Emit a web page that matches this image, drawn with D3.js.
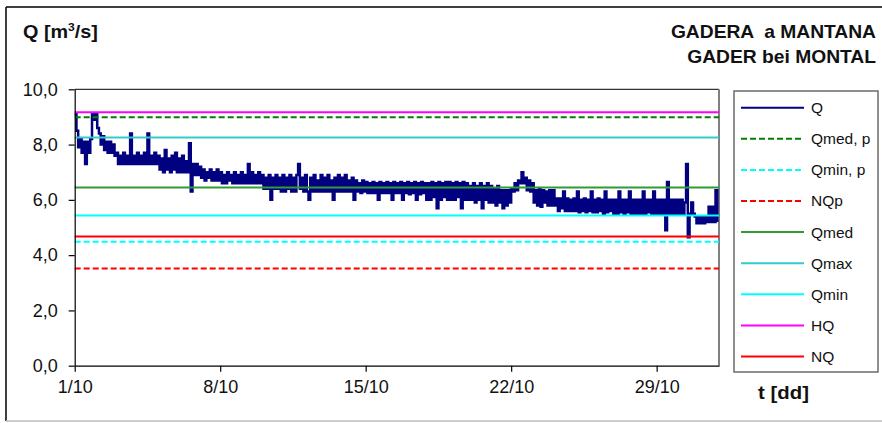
<!DOCTYPE html>
<html>
<head>
<meta charset="utf-8">
<script src="https://cdn.jsdelivr.net/npm/d3@7"></script>
<style>
  body { margin: 0; background: #fff; }
  svg { display: block; font-family: "Liberation Sans", Arial, sans-serif; }
</style>
</head>
<body>
<svg id="chart" width="882" height="423"></svg>
<script>
// Discharge Q [m3/s], one reading every 2 hours from 1 October (12 readings per day)
const qValues = [
  9.1, 8.5, 7.9, 8.2, 7.7, 8.1, 7.3, 8.1, 7.7, 8.2, 9.1, 8.9,
  9.1, 8.6, 8.4, 8.0, 8.3, 7.8, 8.1, 7.7, 8.1, 7.7, 8.0, 7.6,
  7.7, 7.3, 7.6, 7.3, 7.7, 7.3, 7.6, 7.3, 8.4, 7.3, 7.6, 7.3,
  7.7, 7.3, 7.6, 7.3, 7.7, 7.3, 8.4, 7.3, 7.6, 7.3, 7.7, 7.3,
  7.6, 7.1, 7.5, 7.0, 7.8, 7.1, 7.5, 7.0, 7.6, 7.1, 7.7, 7.0,
  7.5, 7.0, 7.6, 7.0, 7.4, 7.0, 8.05, 6.3, 7.3, 6.9, 7.3, 6.9,
  7.2, 6.8, 7.1, 6.7, 7.0, 6.8, 7.1, 6.7, 7.0, 6.7, 7.1, 6.7,
  7.0, 6.6, 6.9, 6.6, 7.0, 6.7, 6.9, 6.6, 7.0, 6.6, 6.9, 6.6,
  7.0, 6.6, 6.9, 6.6, 7.3, 6.6, 7.0, 6.6, 6.9, 6.6, 7.0, 6.6,
  6.9, 6.4, 6.8, 6.4, 6.9, 6.0, 6.8, 6.4, 6.9, 6.4, 6.8, 6.3,
  6.9, 6.3, 6.8, 6.4, 6.9, 6.3, 6.8, 6.3, 6.9, 7.3, 6.4, 6.8,
  6.3, 6.9, 6.3, 6.0, 6.8, 6.3, 6.9, 6.3, 6.7, 6.3, 6.9, 6.3,
  6.8, 6.3, 6.9, 6.3, 6.7, 6.0, 6.8, 6.3, 6.9, 6.3, 6.8, 6.3,
  6.9, 6.3, 6.7, 6.3, 6.8, 6.0, 6.7, 6.3, 6.6, 6.25, 6.7, 6.3,
  6.65, 6.25, 6.6, 6.25, 6.65, 6.25, 6.6, 6.0, 6.65, 6.25, 6.6, 6.25,
  6.65, 6.25, 6.6, 6.0, 6.65, 6.25, 6.6, 6.25, 6.65, 6.0, 6.6, 6.25,
  6.65, 6.2, 6.6, 6.25, 6.65, 6.0, 6.6, 6.2, 6.65, 6.25, 6.6, 6.0,
  6.6, 6.0, 6.65, 6.1, 6.6, 5.7, 6.65, 6.0, 6.6, 6.1, 6.65, 6.0,
  6.65, 6.0, 6.6, 6.0, 6.65, 6.1, 6.6, 5.7, 6.65, 6.0, 6.6, 6.0,
  6.5, 6.0, 6.6, 5.9, 6.5, 6.0, 6.6, 5.7, 6.5, 6.0, 6.6, 5.9,
  6.5, 5.9, 6.4, 5.8, 6.5, 5.9, 6.35, 5.7, 6.35, 5.8, 6.35, 5.9,
  6.4, 6.3, 6.6, 6.35, 6.7, 6.6, 7.0, 6.6, 6.8, 6.35, 6.7, 6.3,
  6.6, 5.9, 6.35, 5.8, 6.4, 5.75, 6.35, 5.9, 6.3, 5.8, 6.35, 5.8,
  6.35, 5.8, 6.05, 5.6, 6.05, 5.7, 6.3, 5.6, 6.05, 5.6, 6.0, 5.6,
  6.05, 5.6, 6.3, 5.55, 6.0, 5.6, 6.05, 5.55, 6.0, 5.6, 6.3, 5.55,
  6.0, 5.55, 6.05, 5.6, 6.0, 5.5, 6.3, 5.55, 6.0, 5.6, 6.0, 5.5,
  6.0, 5.5, 6.3, 5.55, 6.0, 5.5, 6.0, 5.55, 6.3, 5.5, 6.0, 5.5,
  6.0, 5.5, 6.0, 5.5, 6.3, 5.5, 6.0, 5.55, 6.0, 5.5, 6.3, 5.5,
  6.0, 5.5, 6.0, 5.5, 6.0, 4.9, 6.65, 5.5, 6.0, 5.5, 6.0, 5.5,
  6.0, 5.5, 6.0, 5.5, 5.9, 7.3, 4.65, 5.5, 5.9, 5.5, 5.4, 5.15,
  5.4, 5.15, 5.4, 5.15, 5.4, 5.2, 5.75, 5.2, 5.75, 5.2, 6.35, 5.2
];
const readingsPerDay = 12;
const monthDays = 31;

// Reference discharges drawn as horizontal lines
const refNames  = ["Qmed, p", "Qmin, p", "NQp", "Qmed", "Qmax", "Qmin", "HQ", "NQ"];
const refValues = [8.99, 4.48, 3.52, 6.45, 8.26, 5.43, 9.17, 4.67];
const refColors = ["#008000", "#00ffff", "#ff0000", "#339933", "#33cccc", "#00ffff", "#ff00ff", "#ff0000"];
const refDashed = [true, true, true, false, false, false, false, false];

// Axis ticks
const xTickDays   = [0, 7, 14, 21, 28];
const xTickLabels = ["1/10", "8/10", "15/10", "22/10", "29/10"];
const yTickValues = [0, 2, 4, 6, 8, 10];

const svg = d3.select("#chart");
const plot = { left: 74.7, right: 719, top: 89.3, bottom: 365.7 };

const x = d3.scaleLinear().domain([0, monthDays]).range([plot.left, plot.right]);
const y = d3.scaleLinear().domain([0, 10]).range([plot.bottom, plot.top]);
const fmt = d3.formatLocale({ decimal: ",", thousands: ".", grouping: [3], currency: ["", "€"] }).format(".1f");

// Outer frame
svg.append("line").attr("x1", 6).attr("y1", 7).attr("x2", 882).attr("y2", 7).attr("stroke", "#000").attr("stroke-width", 1.5);
svg.append("line").attr("x1", 6).attr("y1", 7).attr("x2", 6).attr("y2", 421).attr("stroke", "#000").attr("stroke-width", 1.5);
svg.append("line").attr("x1", 6).attr("y1", 421).attr("x2", 882).attr("y2", 421).attr("stroke", "#bdbdbd").attr("stroke-width", 1.5);

// Bold labels are set slightly wide
function wideText(px, py, anchor, size) {
  return svg.append("g").attr("transform", `translate(${px},${py}) scale(1.1,1)`)
    .append("text").attr("text-anchor", anchor).attr("font-weight", "bold")
    .attr("font-size", size).attr("fill", "#111");
}
wideText(23, 38, "start", 18).call(t => {
  t.append("tspan").text("Q [m");
  t.append("tspan").attr("font-size", 11).attr("dy", -7).text("3");
  t.append("tspan").attr("dy", 7).text("/s]");
});
wideText(876, 38, "end", 17.5).style("white-space", "pre").text("GADERA  a MANTANA");
wideText(876, 63, "end", 17.5).text("GADER bei MONTAL");

// Plot frame (top and right)
svg.append("line").attr("x1", plot.left).attr("x2", plot.right).attr("y1", plot.top).attr("y2", plot.top)
  .attr("stroke", "#000").attr("stroke-width", 1);
svg.append("line").attr("x1", plot.right).attr("x2", plot.right).attr("y1", plot.top).attr("y2", plot.bottom)
  .attr("stroke", "#808080").attr("stroke-width", 2);

// Discharge series
const qLine = d3.line()
  .x((d, i) => x(i / readingsPerDay))
  .y(d => y(d))
  .curve(d3.curveStepAfter);
svg.append("path").datum(qValues).attr("d", qLine)
  .attr("fill", "none").attr("stroke", "#000080").attr("stroke-width", 2.5);

// Reference lines on top of the series
svg.append("g").selectAll("line").data(refValues).join("line")
  .attr("x1", plot.left).attr("x2", plot.right)
  .attr("y1", d => y(d)).attr("y2", d => y(d))
  .attr("stroke", (d, i) => refColors[i]).attr("stroke-width", 2)
  .attr("stroke-dasharray", (d, i) => refDashed[i] ? "6,3" : null);

// Axes
const yAxis = svg.append("g").attr("transform", `translate(${plot.left},0)`)
  .call(d3.axisLeft(y).tickValues(yTickValues).tickFormat(fmt).tickSize(6).tickSizeOuter(0).tickPadding(11));
const xAxis = svg.append("g").attr("transform", `translate(0,${plot.bottom})`)
  .call(d3.axisBottom(x).tickValues(xTickDays).tickFormat((d, i) => xTickLabels[i]).tickSize(6).tickSizeOuter(0).tickPadding(9));
[yAxis, xAxis].forEach(a => {
  a.selectAll(".domain").attr("stroke", "#000").attr("stroke-width", 1.2);
  a.selectAll(".tick line").attr("stroke", "#000").attr("stroke-width", 1.2);
  a.selectAll("text").attr("font-size", 18).attr("fill", "#111").attr("font-family", "Liberation Sans, Arial, sans-serif");
});

wideText(783.5, 399, "middle", 18.5).text("t [dd]");

// Legend
const legNames  = ["Q"].concat(refNames);
const legColors = ["#000080"].concat(refColors);
const legDashed = [false].concat(refDashed);
svg.append("rect").attr("x", 734).attr("y", 91).attr("width", 144).attr("height", 281)
  .attr("fill", "#fff").attr("stroke", "#6b6b6b").attr("stroke-width", 1.5);
const leg = svg.append("g").selectAll("g").data(legNames).join("g")
  .attr("transform", (d, i) => `translate(0,${107.7 + i * 31.1})`);
leg.append("line").attr("x1", 741).attr("x2", 804)
  .attr("stroke", (d, i) => legColors[i]).attr("stroke-width", 2)
  .attr("stroke-dasharray", (d, i) => legDashed[i] ? "6,3" : null);
leg.append("text").attr("x", 811).attr("dy", "0.35em").attr("font-size", 15.5).attr("fill", "#111").text(d => d);
</script>
</body>
</html>
